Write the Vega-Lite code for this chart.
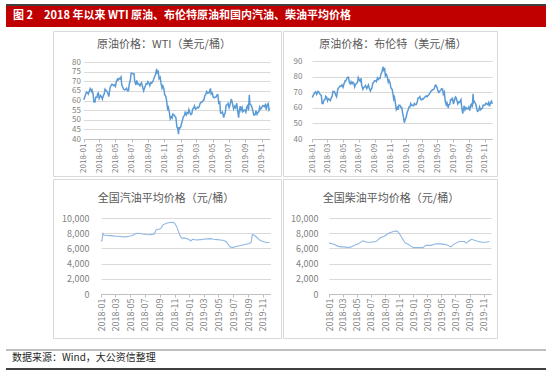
{
  "$schema": "https://vega.github.io/schema/vega-lite/v6.json",
  "background": "white",
  "padding": {"left": 5, "top": 4, "right": 5, "bottom": 7},
  "config": {
    "view": {"stroke": null},
    "font": "Noto Sans CJK SC",
    "axis": {"labelFont": "Noto Sans CJK SC"},
    "title": {"font": "Noto Sans CJK SC"}
  },
  "datasets": {
    "wti": [
      {"date": "2018-01-02", "price": 60.37}, {"date": "2018-01-05", "price": 61.44}, {"date": "2018-01-10", "price": 63.57}, {"date": "2018-01-12", "price": 64.30},
      {"date": "2018-01-17", "price": 63.97}, {"date": "2018-01-19", "price": 63.37}, {"date": "2018-01-25", "price": 65.51}, {"date": "2018-01-26", "price": 66.14},
      {"date": "2018-01-31", "price": 64.73}, {"date": "2018-02-02", "price": 65.45}, {"date": "2018-02-06", "price": 63.39}, {"date": "2018-02-09", "price": 59.20},
      {"date": "2018-02-13", "price": 59.19}, {"date": "2018-02-16", "price": 61.68}, {"date": "2018-02-21", "price": 61.68}, {"date": "2018-02-23", "price": 63.55},
      {"date": "2018-02-26", "price": 63.91}, {"date": "2018-03-01", "price": 60.99}, {"date": "2018-03-06", "price": 62.60}, {"date": "2018-03-09", "price": 62.04},
      {"date": "2018-03-13", "price": 60.71}, {"date": "2018-03-16", "price": 62.34}, {"date": "2018-03-20", "price": 63.54}, {"date": "2018-03-23", "price": 65.88},
      {"date": "2018-03-27", "price": 65.25}, {"date": "2018-03-29", "price": 64.94}, {"date": "2018-04-03", "price": 63.51}, {"date": "2018-04-06", "price": 62.06},
      {"date": "2018-04-11", "price": 66.82}, {"date": "2018-04-13", "price": 67.39}, {"date": "2018-04-18", "price": 68.47}, {"date": "2018-04-20", "price": 68.38},
      {"date": "2018-04-24", "price": 67.70}, {"date": "2018-04-27", "price": 68.10}, {"date": "2018-05-01", "price": 67.25}, {"date": "2018-05-04", "price": 69.72},
      {"date": "2018-05-09", "price": 71.14}, {"date": "2018-05-11", "price": 70.70}, {"date": "2018-05-16", "price": 71.49}, {"date": "2018-05-18", "price": 71.28},
      {"date": "2018-05-22", "price": 72.24}, {"date": "2018-05-25", "price": 67.88}, {"date": "2018-05-29", "price": 66.73}, {"date": "2018-06-01", "price": 65.81},
      {"date": "2018-06-05", "price": 65.52}, {"date": "2018-06-08", "price": 65.74}, {"date": "2018-06-12", "price": 66.36}, {"date": "2018-06-15", "price": 65.06},
      {"date": "2018-06-19", "price": 65.07}, {"date": "2018-06-22", "price": 68.58}, {"date": "2018-06-26", "price": 70.53}, {"date": "2018-06-29", "price": 74.15},
      {"date": "2018-07-03", "price": 74.14}, {"date": "2018-07-06", "price": 73.80}, {"date": "2018-07-10", "price": 73.85}, {"date": "2018-07-12", "price": 70.33},
      {"date": "2018-07-17", "price": 68.08}, {"date": "2018-07-20", "price": 70.46}, {"date": "2018-07-24", "price": 68.52}, {"date": "2018-07-27", "price": 68.69},
      {"date": "2018-08-01", "price": 67.66}, {"date": "2018-08-03", "price": 68.49}, {"date": "2018-08-07", "price": 69.17}, {"date": "2018-08-10", "price": 67.63},
      {"date": "2018-08-15", "price": 65.01}, {"date": "2018-08-17", "price": 65.91}, {"date": "2018-08-21", "price": 67.35}, {"date": "2018-08-24", "price": 68.72},
      {"date": "2018-08-28", "price": 68.53}, {"date": "2018-08-31", "price": 69.80}, {"date": "2018-09-05", "price": 68.72}, {"date": "2018-09-07", "price": 67.75},
      {"date": "2018-09-11", "price": 69.25}, {"date": "2018-09-14", "price": 68.99}, {"date": "2018-09-18", "price": 69.85}, {"date": "2018-09-21", "price": 70.78},
      {"date": "2018-09-25", "price": 72.28}, {"date": "2018-09-28", "price": 73.25}, {"date": "2018-10-03", "price": 76.41}, {"date": "2018-10-05", "price": 74.34},
      {"date": "2018-10-09", "price": 74.96}, {"date": "2018-10-12", "price": 71.34}, {"date": "2018-10-16", "price": 72.09}, {"date": "2018-10-19", "price": 69.12},
      {"date": "2018-10-23", "price": 66.43}, {"date": "2018-10-26", "price": 67.59}, {"date": "2018-10-30", "price": 66.18}, {"date": "2018-11-02", "price": 63.14},
      {"date": "2018-11-06", "price": 62.21}, {"date": "2018-11-09", "price": 60.19}, {"date": "2018-11-13", "price": 55.69}, {"date": "2018-11-16", "price": 56.46},
      {"date": "2018-11-20", "price": 53.43}, {"date": "2018-11-23", "price": 50.42}, {"date": "2018-11-27", "price": 51.56}, {"date": "2018-11-30", "price": 50.93},
      {"date": "2018-12-03", "price": 52.95}, {"date": "2018-12-07", "price": 52.61}, {"date": "2018-12-11", "price": 51.65}, {"date": "2018-12-14", "price": 51.20},
      {"date": "2018-12-18", "price": 46.24}, {"date": "2018-12-21", "price": 45.59}, {"date": "2018-12-24", "price": 42.53}, {"date": "2018-12-26", "price": 46.22},
      {"date": "2018-12-28", "price": 45.33}, {"date": "2019-01-02", "price": 46.54}, {"date": "2019-01-04", "price": 47.96}, {"date": "2019-01-08", "price": 49.78},
      {"date": "2019-01-11", "price": 51.59}, {"date": "2019-01-15", "price": 52.11}, {"date": "2019-01-18", "price": 53.80}, {"date": "2019-01-22", "price": 52.57},
      {"date": "2019-01-25", "price": 53.69}, {"date": "2019-01-29", "price": 53.31}, {"date": "2019-02-01", "price": 55.26}, {"date": "2019-02-05", "price": 53.66},
      {"date": "2019-02-08", "price": 52.72}, {"date": "2019-02-12", "price": 53.10}, {"date": "2019-02-15", "price": 55.59}, {"date": "2019-02-19", "price": 56.09},
      {"date": "2019-02-22", "price": 57.26}, {"date": "2019-02-26", "price": 55.50}, {"date": "2019-03-01", "price": 55.80}, {"date": "2019-03-05", "price": 56.56},
      {"date": "2019-03-08", "price": 56.07}, {"date": "2019-03-12", "price": 56.87}, {"date": "2019-03-15", "price": 58.52}, {"date": "2019-03-19", "price": 59.03},
      {"date": "2019-03-22", "price": 59.04}, {"date": "2019-03-26", "price": 59.94}, {"date": "2019-03-29", "price": 60.14}, {"date": "2019-04-02", "price": 62.58},
      {"date": "2019-04-05", "price": 63.08}, {"date": "2019-04-09", "price": 64.61}, {"date": "2019-04-12", "price": 63.89}, {"date": "2019-04-16", "price": 64.05},
      {"date": "2019-04-18", "price": 64.00}, {"date": "2019-04-23", "price": 66.30}, {"date": "2019-04-26", "price": 63.30}, {"date": "2019-04-30", "price": 63.91},
      {"date": "2019-05-03", "price": 61.94}, {"date": "2019-05-07", "price": 61.40}, {"date": "2019-05-10", "price": 61.66}, {"date": "2019-05-14", "price": 61.78},
      {"date": "2019-05-17", "price": 62.76}, {"date": "2019-05-21", "price": 62.99}, {"date": "2019-05-24", "price": 58.63}, {"date": "2019-05-28", "price": 59.14},
      {"date": "2019-05-31", "price": 53.50}, {"date": "2019-06-04", "price": 53.48}, {"date": "2019-06-07", "price": 53.99}, {"date": "2019-06-12", "price": 51.14},
      {"date": "2019-06-14", "price": 52.51}, {"date": "2019-06-18", "price": 53.90}, {"date": "2019-06-21", "price": 57.43}, {"date": "2019-06-25", "price": 57.83},
      {"date": "2019-06-28", "price": 58.47}, {"date": "2019-07-02", "price": 56.25}, {"date": "2019-07-05", "price": 57.51}, {"date": "2019-07-10", "price": 60.43},
      {"date": "2019-07-12", "price": 60.21}, {"date": "2019-07-16", "price": 57.62}, {"date": "2019-07-19", "price": 55.63}, {"date": "2019-07-23", "price": 57.00},
      {"date": "2019-07-26", "price": 56.20}, {"date": "2019-07-31", "price": 58.58}, {"date": "2019-08-02", "price": 55.66}, {"date": "2019-08-07", "price": 51.09},
      {"date": "2019-08-09", "price": 54.50}, {"date": "2019-08-13", "price": 57.10}, {"date": "2019-08-16", "price": 54.87}, {"date": "2019-08-20", "price": 56.34},
      {"date": "2019-08-23", "price": 54.17}, {"date": "2019-08-27", "price": 54.93}, {"date": "2019-08-30", "price": 55.10}, {"date": "2019-09-03", "price": 53.94},
      {"date": "2019-09-06", "price": 56.52}, {"date": "2019-09-10", "price": 57.40}, {"date": "2019-09-13", "price": 54.85}, {"date": "2019-09-16", "price": 62.90},
      {"date": "2019-09-18", "price": 58.11}, {"date": "2019-09-20", "price": 58.09}, {"date": "2019-09-24", "price": 57.29}, {"date": "2019-09-27", "price": 55.91},
      {"date": "2019-10-01", "price": 53.62}, {"date": "2019-10-03", "price": 52.45}, {"date": "2019-10-08", "price": 52.63}, {"date": "2019-10-11", "price": 54.70},
      {"date": "2019-10-15", "price": 52.81}, {"date": "2019-10-18", "price": 53.78}, {"date": "2019-10-22", "price": 54.16}, {"date": "2019-10-25", "price": 56.66},
      {"date": "2019-10-29", "price": 55.54}, {"date": "2019-11-01", "price": 56.20}, {"date": "2019-11-05", "price": 57.23}, {"date": "2019-11-08", "price": 57.24},
      {"date": "2019-11-12", "price": 56.80}, {"date": "2019-11-15", "price": 57.72}, {"date": "2019-11-19", "price": 55.21}, {"date": "2019-11-22", "price": 57.77},
      {"date": "2019-11-26", "price": 58.41}, {"date": "2019-11-29", "price": 55.17}, {"date": "2019-12-02", "price": 55.96}
    ],
    "brent": [
      {"date": "2018-01-02", "price": 66.57}, {"date": "2018-01-05", "price": 67.62}, {"date": "2018-01-10", "price": 69.20}, {"date": "2018-01-12", "price": 69.87},
      {"date": "2018-01-15", "price": 70.26}, {"date": "2018-01-19", "price": 68.61}, {"date": "2018-01-24", "price": 70.53}, {"date": "2018-01-26", "price": 70.52},
      {"date": "2018-01-31", "price": 69.05}, {"date": "2018-02-02", "price": 68.58}, {"date": "2018-02-06", "price": 67.86}, {"date": "2018-02-09", "price": 62.79},
      {"date": "2018-02-13", "price": 62.72}, {"date": "2018-02-16", "price": 64.84}, {"date": "2018-02-21", "price": 65.42}, {"date": "2018-02-23", "price": 67.31},
      {"date": "2018-02-27", "price": 66.63}, {"date": "2018-03-02", "price": 64.37}, {"date": "2018-03-06", "price": 65.79}, {"date": "2018-03-09", "price": 65.49},
      {"date": "2018-03-13", "price": 64.64}, {"date": "2018-03-16", "price": 66.21}, {"date": "2018-03-20", "price": 67.42}, {"date": "2018-03-23", "price": 70.45},
      {"date": "2018-03-27", "price": 70.11}, {"date": "2018-03-29", "price": 70.27}, {"date": "2018-04-03", "price": 68.12}, {"date": "2018-04-06", "price": 67.11},
      {"date": "2018-04-11", "price": 72.06}, {"date": "2018-04-13", "price": 72.58}, {"date": "2018-04-18", "price": 73.48}, {"date": "2018-04-20", "price": 74.06},
      {"date": "2018-04-24", "price": 73.86}, {"date": "2018-04-27", "price": 74.64}, {"date": "2018-05-01", "price": 73.13}, {"date": "2018-05-04", "price": 74.87},
      {"date": "2018-05-09", "price": 77.21}, {"date": "2018-05-11", "price": 77.12}, {"date": "2018-05-15", "price": 78.43}, {"date": "2018-05-17", "price": 79.30},
      {"date": "2018-05-22", "price": 79.57}, {"date": "2018-05-25", "price": 76.44}, {"date": "2018-05-29", "price": 75.39}, {"date": "2018-06-01", "price": 76.79},
      {"date": "2018-06-05", "price": 75.38}, {"date": "2018-06-08", "price": 76.46}, {"date": "2018-06-12", "price": 75.88}, {"date": "2018-06-15", "price": 73.44},
      {"date": "2018-06-19", "price": 75.08}, {"date": "2018-06-22", "price": 75.55}, {"date": "2018-06-26", "price": 76.31}, {"date": "2018-06-29", "price": 79.44},
      {"date": "2018-07-03", "price": 77.76}, {"date": "2018-07-06", "price": 77.11}, {"date": "2018-07-10", "price": 78.86}, {"date": "2018-07-12", "price": 74.45},
      {"date": "2018-07-17", "price": 71.84}, {"date": "2018-07-20", "price": 73.07}, {"date": "2018-07-24", "price": 73.44}, {"date": "2018-07-27", "price": 74.29},
      {"date": "2018-08-01", "price": 72.39}, {"date": "2018-08-03", "price": 73.21}, {"date": "2018-08-07", "price": 74.65}, {"date": "2018-08-10", "price": 72.81},
      {"date": "2018-08-15", "price": 70.76}, {"date": "2018-08-17", "price": 71.83}, {"date": "2018-08-21", "price": 72.63}, {"date": "2018-08-24", "price": 75.82},
      {"date": "2018-08-28", "price": 76.31}, {"date": "2018-08-31", "price": 77.42}, {"date": "2018-09-05", "price": 77.27}, {"date": "2018-09-07", "price": 76.83},
      {"date": "2018-09-11", "price": 79.06}, {"date": "2018-09-14", "price": 78.09}, {"date": "2018-09-18", "price": 79.03}, {"date": "2018-09-21", "price": 78.80},
      {"date": "2018-09-25", "price": 81.87}, {"date": "2018-09-28", "price": 82.72}, {"date": "2018-10-03", "price": 86.29}, {"date": "2018-10-05", "price": 84.16},
      {"date": "2018-10-09", "price": 85.00}, {"date": "2018-10-12", "price": 80.43}, {"date": "2018-10-16", "price": 81.41}, {"date": "2018-10-19", "price": 79.78},
      {"date": "2018-10-23", "price": 76.44}, {"date": "2018-10-26", "price": 77.62}, {"date": "2018-10-30", "price": 75.91}, {"date": "2018-11-02", "price": 72.83},
      {"date": "2018-11-06", "price": 72.13}, {"date": "2018-11-09", "price": 70.18}, {"date": "2018-11-13", "price": 65.47}, {"date": "2018-11-16", "price": 66.76},
      {"date": "2018-11-20", "price": 62.53}, {"date": "2018-11-23", "price": 58.80}, {"date": "2018-11-27", "price": 60.21}, {"date": "2018-11-30", "price": 58.71},
      {"date": "2018-12-03", "price": 61.69}, {"date": "2018-12-07", "price": 61.67}, {"date": "2018-12-11", "price": 60.20}, {"date": "2018-12-14", "price": 60.28},
      {"date": "2018-12-18", "price": 56.26}, {"date": "2018-12-21", "price": 53.82}, {"date": "2018-12-24", "price": 50.47}, {"date": "2018-12-27", "price": 52.16},
      {"date": "2018-12-31", "price": 53.80}, {"date": "2019-01-04", "price": 57.06}, {"date": "2019-01-08", "price": 58.72}, {"date": "2019-01-11", "price": 60.48},
      {"date": "2019-01-15", "price": 60.64}, {"date": "2019-01-18", "price": 62.70}, {"date": "2019-01-22", "price": 61.50}, {"date": "2019-01-25", "price": 61.64},
      {"date": "2019-01-29", "price": 61.32}, {"date": "2019-02-01", "price": 62.75}, {"date": "2019-02-05", "price": 61.98}, {"date": "2019-02-08", "price": 62.10},
      {"date": "2019-02-12", "price": 63.69}, {"date": "2019-02-15", "price": 66.25}, {"date": "2019-02-19", "price": 66.45}, {"date": "2019-02-22", "price": 67.12},
      {"date": "2019-02-26", "price": 65.21}, {"date": "2019-03-01", "price": 65.07}, {"date": "2019-03-05", "price": 65.86}, {"date": "2019-03-08", "price": 65.74},
      {"date": "2019-03-12", "price": 66.67}, {"date": "2019-03-15", "price": 67.16}, {"date": "2019-03-19", "price": 67.61}, {"date": "2019-03-22", "price": 67.03},
      {"date": "2019-03-26", "price": 67.97}, {"date": "2019-03-29", "price": 68.39}, {"date": "2019-04-02", "price": 69.37}, {"date": "2019-04-05", "price": 70.34},
      {"date": "2019-04-09", "price": 71.02}, {"date": "2019-04-12", "price": 71.55}, {"date": "2019-04-16", "price": 71.72}, {"date": "2019-04-18", "price": 71.97},
      {"date": "2019-04-23", "price": 74.51}, {"date": "2019-04-25", "price": 74.57}, {"date": "2019-04-30", "price": 72.80}, {"date": "2019-05-03", "price": 70.85},
      {"date": "2019-05-07", "price": 69.88}, {"date": "2019-05-10", "price": 70.62}, {"date": "2019-05-14", "price": 71.24}, {"date": "2019-05-17", "price": 72.21},
      {"date": "2019-05-21", "price": 71.97}, {"date": "2019-05-24", "price": 68.69}, {"date": "2019-05-28", "price": 70.11}, {"date": "2019-05-31", "price": 64.49},
      {"date": "2019-06-04", "price": 61.97}, {"date": "2019-06-07", "price": 63.29}, {"date": "2019-06-12", "price": 59.97}, {"date": "2019-06-14", "price": 62.01},
      {"date": "2019-06-18", "price": 62.14}, {"date": "2019-06-21", "price": 65.20}, {"date": "2019-06-25", "price": 65.05}, {"date": "2019-06-28", "price": 66.55},
      {"date": "2019-07-02", "price": 62.40}, {"date": "2019-07-05", "price": 64.23}, {"date": "2019-07-10", "price": 67.01}, {"date": "2019-07-12", "price": 66.72},
      {"date": "2019-07-16", "price": 64.35}, {"date": "2019-07-19", "price": 62.47}, {"date": "2019-07-23", "price": 63.83}, {"date": "2019-07-26", "price": 63.46},
      {"date": "2019-07-31", "price": 65.17}, {"date": "2019-08-02", "price": 61.89}, {"date": "2019-08-07", "price": 56.23}, {"date": "2019-08-09", "price": 58.53},
      {"date": "2019-08-13", "price": 61.30}, {"date": "2019-08-16", "price": 58.64}, {"date": "2019-08-20", "price": 60.03}, {"date": "2019-08-23", "price": 59.34},
      {"date": "2019-08-27", "price": 59.51}, {"date": "2019-08-30", "price": 60.43}, {"date": "2019-09-03", "price": 58.26}, {"date": "2019-09-06", "price": 61.54},
      {"date": "2019-09-10", "price": 62.38}, {"date": "2019-09-13", "price": 60.22}, {"date": "2019-09-16", "price": 69.02}, {"date": "2019-09-18", "price": 63.60},
      {"date": "2019-09-20", "price": 64.28}, {"date": "2019-09-24", "price": 63.10}, {"date": "2019-09-27", "price": 61.91}, {"date": "2019-10-01", "price": 58.89},
      {"date": "2019-10-03", "price": 57.71}, {"date": "2019-10-08", "price": 58.24}, {"date": "2019-10-11", "price": 60.51}, {"date": "2019-10-15", "price": 58.74},
      {"date": "2019-10-18", "price": 59.42}, {"date": "2019-10-22", "price": 59.70}, {"date": "2019-10-25", "price": 61.67}, {"date": "2019-10-29", "price": 61.59},
      {"date": "2019-11-01", "price": 61.69}, {"date": "2019-11-05", "price": 62.96}, {"date": "2019-11-08", "price": 62.51}, {"date": "2019-11-12", "price": 62.06},
      {"date": "2019-11-15", "price": 63.30}, {"date": "2019-11-19", "price": 60.91}, {"date": "2019-11-22", "price": 63.39}, {"date": "2019-11-26", "price": 64.27},
      {"date": "2019-11-29", "price": 62.43}
    ],
    "gasoline": [
      {"date": "2018-01-01", "price": 6950}, {"date": "2018-01-05", "price": 7000}, {"date": "2018-01-09", "price": 7950}, {"date": "2018-01-13", "price": 7750},
      {"date": "2018-01-26", "price": 7700}, {"date": "2018-02-09", "price": 7680}, {"date": "2018-02-26", "price": 7620}, {"date": "2018-03-12", "price": 7600},
      {"date": "2018-03-28", "price": 7550}, {"date": "2018-04-13", "price": 7520}, {"date": "2018-04-27", "price": 7600}, {"date": "2018-05-11", "price": 7700},
      {"date": "2018-05-25", "price": 7950}, {"date": "2018-06-08", "price": 8000}, {"date": "2018-06-22", "price": 7900}, {"date": "2018-07-06", "price": 7820},
      {"date": "2018-07-20", "price": 7800}, {"date": "2018-08-03", "price": 7850}, {"date": "2018-08-10", "price": 7950}, {"date": "2018-08-17", "price": 8450},
      {"date": "2018-08-31", "price": 8550}, {"date": "2018-09-07", "price": 8700}, {"date": "2018-09-14", "price": 9100}, {"date": "2018-09-28", "price": 9300},
      {"date": "2018-10-12", "price": 9400}, {"date": "2018-10-26", "price": 9420}, {"date": "2018-11-02", "price": 9300}, {"date": "2018-11-09", "price": 8900},
      {"date": "2018-11-16", "price": 8300}, {"date": "2018-11-23", "price": 7700}, {"date": "2018-11-30", "price": 7350}, {"date": "2018-12-14", "price": 7350},
      {"date": "2018-12-28", "price": 7200}, {"date": "2019-01-07", "price": 7000}, {"date": "2019-01-15", "price": 7200}, {"date": "2019-01-29", "price": 7100},
      {"date": "2019-02-15", "price": 7150}, {"date": "2019-03-01", "price": 7200}, {"date": "2019-03-15", "price": 7250}, {"date": "2019-03-29", "price": 7280},
      {"date": "2019-04-12", "price": 7200}, {"date": "2019-04-26", "price": 7150}, {"date": "2019-05-10", "price": 7100}, {"date": "2019-05-24", "price": 7050},
      {"date": "2019-06-03", "price": 6850}, {"date": "2019-06-10", "price": 6550}, {"date": "2019-06-17", "price": 6200}, {"date": "2019-06-28", "price": 6100},
      {"date": "2019-07-12", "price": 6250}, {"date": "2019-07-26", "price": 6350}, {"date": "2019-08-09", "price": 6450}, {"date": "2019-08-23", "price": 6550},
      {"date": "2019-09-06", "price": 6650}, {"date": "2019-09-13", "price": 6800}, {"date": "2019-09-18", "price": 7850}, {"date": "2019-09-27", "price": 7700},
      {"date": "2019-10-08", "price": 7400}, {"date": "2019-10-18", "price": 7100}, {"date": "2019-10-29", "price": 6950}, {"date": "2019-11-08", "price": 6850},
      {"date": "2019-11-18", "price": 6750}, {"date": "2019-11-28", "price": 6800}
    ],
    "diesel": [
      {"date": "2018-01-01", "price": 6700}, {"date": "2018-01-12", "price": 6650}, {"date": "2018-01-25", "price": 6500}, {"date": "2018-02-08", "price": 6300},
      {"date": "2018-02-22", "price": 6200}, {"date": "2018-03-09", "price": 6200}, {"date": "2018-03-23", "price": 6100}, {"date": "2018-04-07", "price": 6200},
      {"date": "2018-04-21", "price": 6400}, {"date": "2018-05-08", "price": 6600}, {"date": "2018-05-27", "price": 7000}, {"date": "2018-06-14", "price": 6800},
      {"date": "2018-07-02", "price": 6800}, {"date": "2018-07-23", "price": 6900}, {"date": "2018-08-11", "price": 7400}, {"date": "2018-08-28", "price": 7600},
      {"date": "2018-09-15", "price": 8000}, {"date": "2018-10-03", "price": 8200}, {"date": "2018-10-18", "price": 8300}, {"date": "2018-10-28", "price": 8150},
      {"date": "2018-11-08", "price": 7600}, {"date": "2018-11-26", "price": 6700}, {"date": "2018-12-10", "price": 6550}, {"date": "2018-12-21", "price": 6300},
      {"date": "2019-01-02", "price": 6100}, {"date": "2019-01-19", "price": 6100}, {"date": "2019-02-10", "price": 6100}, {"date": "2019-02-24", "price": 6400},
      {"date": "2019-03-18", "price": 6400}, {"date": "2019-04-08", "price": 6600}, {"date": "2019-04-30", "price": 6600}, {"date": "2019-05-21", "price": 6500},
      {"date": "2019-06-12", "price": 6200}, {"date": "2019-06-26", "price": 6600}, {"date": "2019-07-18", "price": 6900}, {"date": "2019-08-09", "price": 6900},
      {"date": "2019-08-16", "price": 6700}, {"date": "2019-08-30", "price": 7000}, {"date": "2019-09-09", "price": 7200}, {"date": "2019-09-28", "price": 7000},
      {"date": "2019-10-20", "price": 6800}, {"date": "2019-11-10", "price": 6800}, {"date": "2019-11-25", "price": 6900}
    ]
  },
  "vconcat": [
    {
      "width": 540, "height": 22,
      "view": {"fill": "#c00000", "stroke": null},
      "data": {"values": [{"line": "top"}]},
      "mark": {"type": "rule", "color": "#404040", "strokeWidth": 2},
      "encoding": {"y": {"field": "line", "type": "nominal", "scale": {"type": "point", "domain": ["top"], "padding": 0, "align": 0}, "axis": null}},
      "title": {"text": "图 2　2018 年以来 WTI 原油、布伦特原油和国内汽油、柴油平均价格", "frame": "group", "anchor": "start", "dx": 7, "offset": -16.5, "color": "#ffffff", "fontSize": 11, "fontWeight": "bold"}
    },
    {"width": 1, "height": 3, "view": {"stroke": null}, "data": {"values": [{}]}, "mark": {"type": "rect", "opacity": 0}, "encoding": {}},
    {
      "hconcat": [
        {"width": 45, "height": 145, "view": {"stroke": null}, "data": {"values": [{}]}, "mark": {"type": "rect", "opacity": 0}, "encoding": {}},
        {
          "width": 228, "height": 145,
          "view": {"stroke": "#d9d9d9"},
          "title": {"text": "原油价格：WTI（美元/桶）", "frame": "group", "anchor": "middle", "dx": -3, "offset": -18.5, "fontSize": 11, "fontWeight": "normal", "color": "#595959"},
          "data": {"name": "wti"},
          "mark": {"type": "line", "color": "#5b9bd5", "strokeWidth": 1.5},
          "encoding": {
            "x": {"field": "date", "type": "temporal",
              "scale": {"type": "utc", "nice": false, "domain": [{"year": 2018, "month": 1, "date": 1, "utc": true}, {"year": 2019, "month": 12, "date": 2, "utc": true}], "range": [30.5, 216.8]},
              "axis": {"title": null, "format": "%Y-%m", "labelAngle": 270, "labelFlush": false, "labelOverlap": false, "labelBound": false, "grid": false,
                "values": [{"year": 2018, "month": 1, "date": 1, "utc": true}, {"year": 2018, "month": 3, "date": 1, "utc": true}, {"year": 2018, "month": 5, "date": 1, "utc": true}, {"year": 2018, "month": 7, "date": 1, "utc": true}, {"year": 2018, "month": 9, "date": 1, "utc": true}, {"year": 2018, "month": 11, "date": 1, "utc": true}, {"year": 2019, "month": 1, "date": 1, "utc": true}, {"year": 2019, "month": 3, "date": 1, "utc": true}, {"year": 2019, "month": 5, "date": 1, "utc": true}, {"year": 2019, "month": 7, "date": 1, "utc": true}, {"year": 2019, "month": 9, "date": 1, "utc": true}, {"year": 2019, "month": 11, "date": 1, "utc": true}],
                "offset": -37, "domainColor": "#bfbfbf", "tickColor": "#bfbfbf", "tickSize": 3, "labelFontSize": 8, "labelColor": "#7f7f7f", "labelPadding": 1}},
            "y": {"field": "price", "type": "quantitative",
              "scale": {"domain": [40, 80], "range": [108, 31], "nice": false, "zero": false},
              "axis": {"title": null, "values": [40, 45, 50, 55, 60, 65, 70, 75, 80], "format": "d", "labelOverlap": false, "labelBound": false, "labelFlush": false, "grid": true, "gridColor": "#d9d9d9", "domain": false, "ticks": false, "offset": -30.5, "labelPadding": 3, "labelFontSize": 8, "labelColor": "#7f7f7f"}}
          }
        },
        {
          "width": 214, "height": 145,
          "view": {"stroke": "#d9d9d9"},
          "title": {"text": "原油价格：布伦特（美元/桶）", "frame": "group", "anchor": "middle", "dx": 3, "offset": -18.5, "fontSize": 11, "fontWeight": "normal", "color": "#595959"},
          "data": {"name": "brent"},
          "mark": {"type": "line", "color": "#5b9bd5", "strokeWidth": 1.5},
          "encoding": {
            "x": {"field": "date", "type": "temporal",
              "scale": {"type": "utc", "nice": false, "domain": [{"year": 2018, "month": 1, "date": 1, "utc": true}, {"year": 2019, "month": 11, "date": 29, "utc": true}], "range": [29, 209.2]},
              "axis": {"title": null, "format": "%Y-%m", "labelAngle": 270, "labelFlush": false, "labelOverlap": false, "labelBound": false, "grid": false,
                "values": [{"year": 2018, "month": 1, "date": 1, "utc": true}, {"year": 2018, "month": 3, "date": 1, "utc": true}, {"year": 2018, "month": 5, "date": 1, "utc": true}, {"year": 2018, "month": 7, "date": 1, "utc": true}, {"year": 2018, "month": 9, "date": 1, "utc": true}, {"year": 2018, "month": 11, "date": 1, "utc": true}, {"year": 2019, "month": 1, "date": 1, "utc": true}, {"year": 2019, "month": 3, "date": 1, "utc": true}, {"year": 2019, "month": 5, "date": 1, "utc": true}, {"year": 2019, "month": 7, "date": 1, "utc": true}, {"year": 2019, "month": 9, "date": 1, "utc": true}, {"year": 2019, "month": 11, "date": 1, "utc": true}],
                "offset": -37, "domainColor": "#bfbfbf", "tickColor": "#bfbfbf", "tickSize": 3, "labelFontSize": 8, "labelColor": "#7f7f7f", "labelPadding": 1}},
            "y": {"field": "price", "type": "quantitative",
              "scale": {"domain": [40, 90], "range": [108, 30], "nice": false, "zero": false},
              "axis": {"title": null, "values": [40, 50, 60, 70, 80, 90], "format": "d", "labelOverlap": false, "labelBound": false, "labelFlush": false, "grid": true, "gridColor": "#d9d9d9", "domain": false, "ticks": false, "offset": -29, "labelPadding": 10, "labelFontSize": 8, "labelColor": "#7f7f7f"}}
          }
        }
      ],
      "spacing": 2, "bounds": "flush",
      "resolve": {"scale": {"x": "independent", "y": "independent"}, "axis": {"x": "independent", "y": "independent"}}
    },
    {"width": 1, "height": 1, "view": {"stroke": null}, "data": {"values": [{}]}, "mark": {"type": "rect", "opacity": 0}, "encoding": {}},
    {
      "hconcat": [
        {"width": 45, "height": 159, "view": {"stroke": null}, "data": {"values": [{}]}, "mark": {"type": "rect", "opacity": 0}, "encoding": {}},
        {
          "width": 228, "height": 159,
          "view": {"stroke": "#d9d9d9"},
          "title": {"text": "全国汽油平均价格（元/桶）", "frame": "group", "anchor": "middle", "dx": -1, "offset": -24.5, "fontSize": 11, "fontWeight": "normal", "color": "#595959"},
          "data": {"name": "gasoline"},
          "mark": {"type": "line", "color": "#8fb8e3", "strokeWidth": 1.1},
          "encoding": {
            "x": {"field": "date", "type": "temporal",
              "scale": {"type": "utc", "nice": false, "domain": [{"year": 2018, "month": 1, "date": 1, "utc": true}, {"year": 2019, "month": 12, "date": 2, "utc": true}], "range": [48, 217.5]},
              "axis": {"title": null, "format": "%Y-%m", "labelAngle": 270, "labelFlush": false, "labelOverlap": false, "labelBound": false, "grid": false,
                "values": [{"year": 2018, "month": 1, "date": 1, "utc": true}, {"year": 2018, "month": 3, "date": 1, "utc": true}, {"year": 2018, "month": 5, "date": 1, "utc": true}, {"year": 2018, "month": 7, "date": 1, "utc": true}, {"year": 2018, "month": 9, "date": 1, "utc": true}, {"year": 2018, "month": 11, "date": 1, "utc": true}, {"year": 2019, "month": 1, "date": 1, "utc": true}, {"year": 2019, "month": 3, "date": 1, "utc": true}, {"year": 2019, "month": 5, "date": 1, "utc": true}, {"year": 2019, "month": 7, "date": 1, "utc": true}, {"year": 2019, "month": 9, "date": 1, "utc": true}, {"year": 2019, "month": 11, "date": 1, "utc": true}],
                "offset": -44, "domainColor": "#bfbfbf", "tickColor": "#bfbfbf", "tickSize": 3, "labelFontSize": 9, "labelColor": "#7f7f7f", "labelPadding": 1}},
            "y": {"field": "price", "type": "quantitative",
              "scale": {"domain": [0, 10000], "range": [115, 39], "nice": false},
              "axis": {"title": null, "values": [0, 2000, 4000, 6000, 8000, 10000], "format": ",.0f", "labelOverlap": false, "labelBound": false, "labelFlush": false, "grid": true, "gridColor": "#d9d9d9", "domain": false, "ticks": false, "offset": -48, "labelPadding": 12, "labelFontSize": 9, "labelColor": "#7f7f7f"}}
          }
        },
        {
          "width": 214, "height": 159,
          "view": {"stroke": "#d9d9d9"},
          "title": {"text": "全国柴油平均价格（元/桶）", "frame": "group", "anchor": "middle", "dx": 1, "offset": -24.5, "fontSize": 11, "fontWeight": "normal", "color": "#595959"},
          "data": {"name": "diesel"},
          "mark": {"type": "line", "color": "#8fb8e3", "strokeWidth": 1.1},
          "encoding": {
            "x": {"field": "date", "type": "temporal",
              "scale": {"type": "utc", "nice": false, "domain": [{"year": 2018, "month": 1, "date": 1, "utc": true}, {"year": 2019, "month": 12, "date": 2, "utc": true}], "range": [46, 208]},
              "axis": {"title": null, "format": "%Y-%m", "labelAngle": 270, "labelFlush": false, "labelOverlap": false, "labelBound": false, "grid": false,
                "values": [{"year": 2018, "month": 1, "date": 1, "utc": true}, {"year": 2018, "month": 3, "date": 1, "utc": true}, {"year": 2018, "month": 5, "date": 1, "utc": true}, {"year": 2018, "month": 7, "date": 1, "utc": true}, {"year": 2018, "month": 9, "date": 1, "utc": true}, {"year": 2018, "month": 11, "date": 1, "utc": true}, {"year": 2019, "month": 1, "date": 1, "utc": true}, {"year": 2019, "month": 3, "date": 1, "utc": true}, {"year": 2019, "month": 5, "date": 1, "utc": true}, {"year": 2019, "month": 7, "date": 1, "utc": true}, {"year": 2019, "month": 9, "date": 1, "utc": true}, {"year": 2019, "month": 11, "date": 1, "utc": true}],
                "offset": -44, "domainColor": "#bfbfbf", "tickColor": "#bfbfbf", "tickSize": 3, "labelFontSize": 9, "labelColor": "#7f7f7f", "labelPadding": 1}},
            "y": {"field": "price", "type": "quantitative",
              "scale": {"domain": [0, 10000], "range": [115, 39], "nice": false},
              "axis": {"title": null, "values": [0, 2000, 4000, 6000, 8000, 10000], "format": ",.0f", "labelOverlap": false, "labelBound": false, "labelFlush": false, "grid": true, "gridColor": "#d9d9d9", "domain": false, "ticks": false, "offset": -46, "labelPadding": 11, "labelFontSize": 9, "labelColor": "#7f7f7f"}}
          }
        }
      ],
      "spacing": 2, "bounds": "flush",
      "resolve": {"scale": {"x": "independent", "y": "independent"}, "axis": {"x": "independent", "y": "independent"}}
    },
    {"width": 1, "height": 10, "view": {"stroke": null}, "data": {"values": [{}]}, "mark": {"type": "rect", "opacity": 0}, "encoding": {}},
    {
      "width": 540, "height": 19,
      "view": {"stroke": null},
      "data": {"values": [{"line": "upper"}, {"line": "lower"}]},
      "title": {"text": "数据来源：Wind，大公资信整理", "frame": "group", "anchor": "start", "dx": 6, "offset": -13.5, "color": "#262626", "fontSize": 10, "fontWeight": "normal"},
      "layer": [
        {"transform": [{"filter": "datum.line === 'upper'"}], "mark": {"type": "rule", "color": "#7f7f7f", "strokeWidth": 1},
          "encoding": {"y": {"field": "line", "type": "nominal", "scale": {"type": "point", "domain": ["upper", "lower"], "padding": 0}, "axis": null}}},
        {"transform": [{"filter": "datum.line === 'lower'"}], "mark": {"type": "rule", "color": "#404040", "strokeWidth": 2},
          "encoding": {"y": {"field": "line", "type": "nominal", "scale": {"type": "point", "domain": ["upper", "lower"], "padding": 0}, "axis": null}}}
      ]
    }
  ],
  "spacing": 0,
  "resolve": {"scale": {"x": "independent", "y": "independent"}, "axis": {"x": "independent", "y": "independent"}}
}
